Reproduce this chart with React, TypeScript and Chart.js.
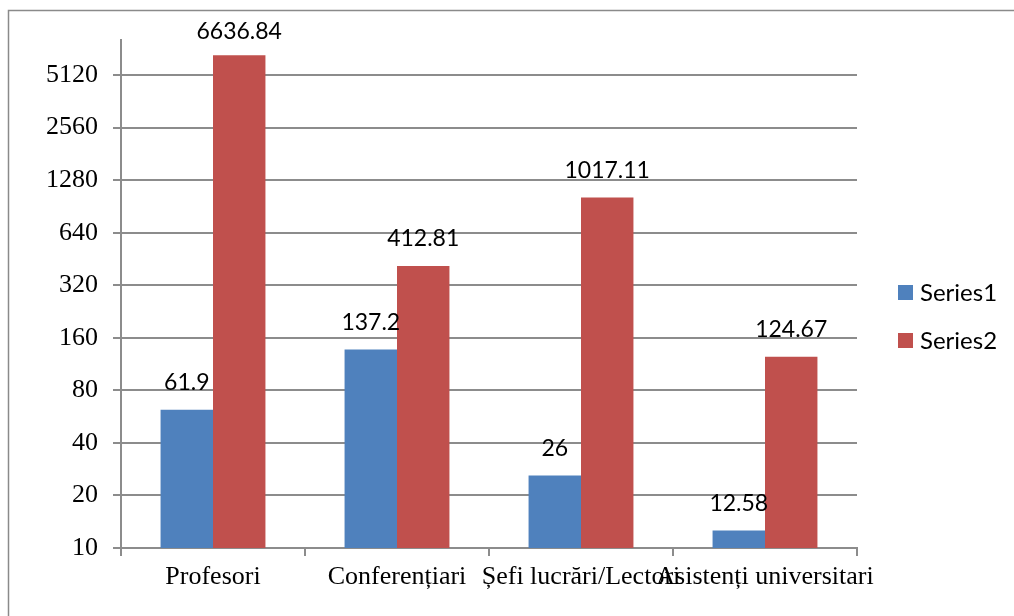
import React, { useEffect, useRef } from "react";
import { Chart, registerables } from "chart.js";

Chart.register(...registerables);

const categories = ["Profesori", "Conferențiari", "Șefi lucrări/Lectori", "Asistenți universitari"];
const series1 = [61.9, 137.2, 26, 12.58];
const series2 = [6636.84, 412.81, 1017.11, 124.67];
const seriesNames = ["Series1", "Series2"];
const yTicks = [10, 20, 40, 80, 160, 320, 640, 1280, 2560, 5120];
const yMin = 10;
const yMax = 8128;

const BLUE = "#4F81BD";
const RED = "#C0504D";
const GRID = "#8C8C8C";
const SANS = "Lato, 'Open Sans', sans-serif";
const SERIF = "'Liberation Serif', 'DejaVu Serif', serif";

const framePlugin = {
  id: "frame",
  beforeDraw(chart: any) {
    const ctx = chart.ctx;
    ctx.save();
    ctx.fillStyle = "#ffffff";
    ctx.fillRect(0, 0, chart.width, chart.height);
    ctx.strokeStyle = "#8A8A8A";
    ctx.lineWidth = 1.5;
    ctx.beginPath();
    ctx.moveTo(8.5, chart.height + 5);
    ctx.lineTo(8.5, 10.5);
    ctx.lineTo(chart.width + 5, 10.5);
    ctx.stroke();
    ctx.restore();
  },
};

const labelPlugin = {
  id: "valueLabels",
  afterDatasetsDraw(chart: any) {
    const ctx = chart.ctx;
    ctx.save();
    ctx.font = `23px ${SANS}`;
    ctx.fillStyle = "#000";
    ctx.textAlign = "center";
    ctx.textBaseline = "middle";
    chart.data.datasets.forEach((ds: any, di: number) => {
      const meta = chart.getDatasetMeta(di);
      meta.data.forEach((bar: any, i: number) => {
        const y = Math.max(bar.y - 27, 32);
        ctx.fillText(String(ds.data[i]), bar.x, y);
      });
    });
    ctx.restore();
  },
};

const legendPlugin = {
  id: "customLegend",
  afterDraw(chart: any) {
    const ctx = chart.ctx;
    ctx.save();
    ctx.font = `24px ${SANS}`;
    ctx.textAlign = "left";
    ctx.textBaseline = "middle";
    const x0 = chart.chartArea.right + 41;
    const yStart = 285;
    const step = 48;
    chart.data.datasets.forEach((ds: any, di: number) => {
      const y = yStart + di * step;
      ctx.fillStyle = ds.backgroundColor;
      ctx.fillRect(x0, y, 15, 15);
      ctx.fillStyle = "#000";
      ctx.fillText(ds.label, x0 + 22, y + 8);
    });
    ctx.restore();
  },
};

export default function App() {
  const ref = useRef<HTMLCanvasElement | null>(null);
  useEffect(() => {
    if (!ref.current) return;
    const chart = new Chart(ref.current, {
      type: "bar",
      data: {
        labels: categories,
        datasets: [
          { label: seriesNames[0], data: series1, backgroundColor: BLUE, barPercentage: 1, categoryPercentage: 0.57 },
          { label: seriesNames[1], data: series2, backgroundColor: RED, barPercentage: 1, categoryPercentage: 0.57 },
        ],
      },
      options: {
        responsive: false,
        animation: false,
        layout: { padding: { top: 40, right: 157, bottom: 0, left: 0 } },
        plugins: { legend: { display: false }, tooltip: { enabled: false } },
        scales: {
          x: {
            afterFit(scale: any) {
              scale.height = 68;
            },
            grid: { drawOnChartArea: false, drawTicks: true, tickLength: 8, color: GRID, lineWidth: 2, offset: true },
            border: { color: GRID, width: 2 },
            ticks: {
              autoSkip: false,
              maxRotation: 0,
              minRotation: 0,
              padding: 6,
              color: "#000",
              font: { family: SERIF, size: 26 },
            },
          },
          y: {
            type: "logarithmic",
            min: yMin,
            max: yMax,
            afterFit(scale: any) {
              scale.width = 121;
            },
            afterBuildTicks(scale: any) {
              scale.ticks = yTicks.map((v) => ({ value: v }));
            },
            grid: { color: GRID, lineWidth: 2, tickLength: 8, drawTicks: true },
            border: { color: GRID, width: 2 },
            ticks: {
              padding: 15,
              color: "#000",
              font: { family: SERIF, size: 26 },
              callback: (v: any) => String(v),
            },
          },
        },
      },
      plugins: [framePlugin, labelPlugin, legendPlugin],
    });
    return () => chart.destroy();
  }, []);
  return (
    <div style={{ position: "fixed", left: 0, top: 0, width: 1014, height: 616 }}>
      <canvas ref={ref} width={1014} height={616} style={{ display: "block" }} />
    </div>
  );
}
